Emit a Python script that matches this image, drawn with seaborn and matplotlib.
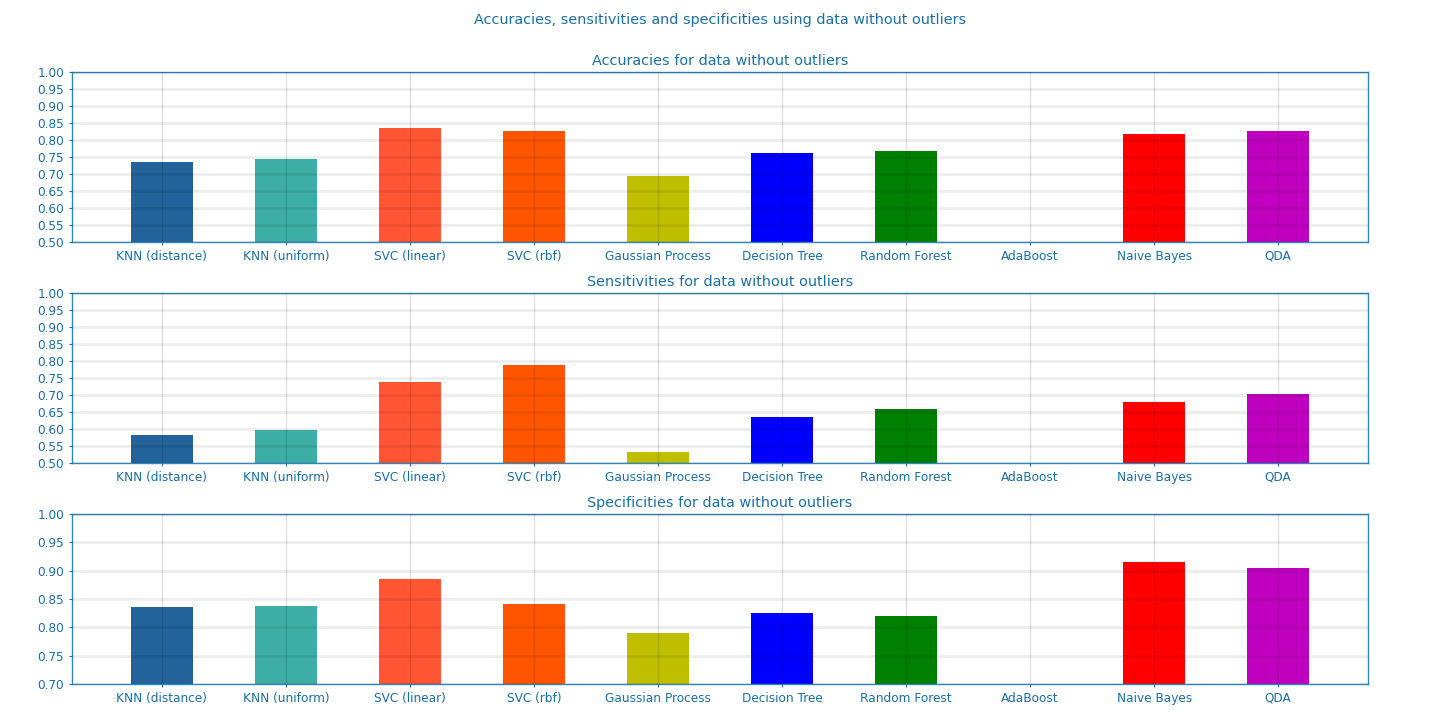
import numpy as np
import pandas as pd
import matplotlib
matplotlib.use('Agg')
import matplotlib.pyplot as plt
import seaborn as sns

sns.set_style("white")
plt.rcParams['font.family'] = ['DejaVu Sans']

# Données
modeles = ['KNN (distance)', 'KNN (uniform)', 'SVC (linear)', 'SVC (rbf)',
           'Gaussian Process', 'Decision Tree', 'Random Forest', 'AdaBoost',
           'Naive Bayes', 'QDA']
couleurs = ['#21639a', '#3daea5', '#ff5533', '#ff5500', '#bfbf00',
            '#0000ff', '#008000', '#000000', '#ff0000', '#bf00bf']
accuracies = [0.735, 0.744, 0.835, 0.826, 0.694, 0.762, 0.768, np.nan, 0.818, 0.826]
sensitivities = [0.582, 0.597, 0.738, 0.788, 0.532, 0.635, 0.659, np.nan, 0.679, 0.703]
specificities = [0.836, 0.838, 0.885, 0.841, 0.790, 0.825, 0.820, np.nan, 0.915, 0.905]

texte = '#1a6fa3'
bord = '#2e86bd'

fig, axes = plt.subplots(3, 1, figsize=(14.4, 7.2), dpi=100)
fig.subplots_adjust(left=0.05, right=0.95, bottom=0.05, top=0.9, hspace=0.3)
fig.suptitle('Accuracies, sensitivities and specificities using data without outliers',
             color=texte, fontsize=10.4, y=0.982)

panneaux = [
    (accuracies, 'Accuracies for data without outliers', 0.5, np.arange(0.5, 1.001, 0.05)),
    (sensitivities, 'Sensitivities for data without outliers', 0.5, np.arange(0.5, 1.001, 0.05)),
    (specificities, 'Specificities for data without outliers', 0.7, np.arange(0.7, 1.001, 0.05)),
]

for ax, (valeurs, titre, ymin, yticks) in zip(axes, panneaux):
    df = pd.DataFrame({'modele': modeles, 'valeur': valeurs})
    sns.barplot(data=df, x='modele', y='valeur', hue='modele', palette=couleurs,
                width=0.5, legend=False, saturation=1, linewidth=0, ax=ax)
    ax.set_xlim(-0.725, len(modeles) - 1 + 0.725)
    ax.set_ylim(ymin, 1.0)
    ax.set_yticks(yticks)
    ax.set_yticklabels([f'{t:.2f}' for t in yticks])
    ax.set_xlabel('')
    ax.set_ylabel('')
    ax.set_title(titre, color=texte, fontsize=10.4, pad=5)
    ax.set_axisbelow(False)
    ax.yaxis.grid(True, color='k', alpha=0.07, linewidth=2)
    ax.xaxis.grid(True, color='k', alpha=0.13, linewidth=1)
    ax.tick_params(colors=texte, labelsize=8.7, length=2.5, pad=3, bottom=True, left=True)
    for sp in ax.spines.values():
        sp.set_color(bord)
        sp.set_linewidth(1)

plt.savefig('out.png', dpi=100)
plt.close()
